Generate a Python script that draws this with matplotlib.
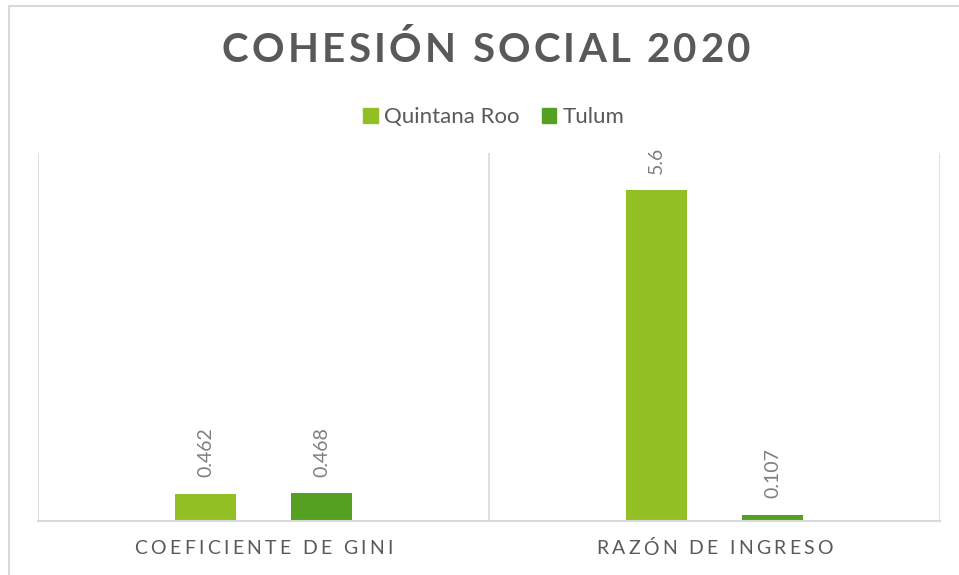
import numpy as np
import matplotlib.pyplot as plt
from matplotlib.lines import Line2D
from matplotlib.patches import Patch

categorias = ["COEFICIENTE DE GINI", "RAZÓN DE INGRESO"]
series = ["Quintana Roo", "Tulum"]
quintana_roo = [0.462, 5.6]
tulum = [0.468, 0.107]
etiquetas_qr = ["0.462", "5.6"]
etiquetas_tulum = ["0.468", "0.107"]

verde_claro = "#92C024"
verde_oscuro = "#55A021"
gris_texto = "#595959"
gris_valor = "#7F7F7F"
gris_linea = "#D9D9D9"

plt.rcParams['font.family'] = ['Lato', 'DejaVu Sans']

fig = plt.figure(figsize=(9.59, 5.75), dpi=100)
W, H = 959, 575
renderer = fig.canvas.get_renderer()


def texto_espaciado(cx, cy, s, espacio, **kw):
    """Texto centrado en (cx, cy) px desde arriba, con espacio extra entre letras."""
    letras = [fig.text(0, 0, c, ha="left", va="center", **kw) for c in s]
    anchos = []
    for t, c in zip(letras, s):
        if c == " ":
            t.set_text("a a")
            w = t.get_window_extent(renderer).width
            t.set_text("aa")
            w -= t.get_window_extent(renderer).width
            t.set_text(" ")
        else:
            w = t.get_window_extent(renderer).width
        anchos.append(w)
    total = sum(anchos) + espacio * (len(s) - 1)
    x0 = cx - total / 2
    for t, w in zip(letras, anchos):
        t.set_position((x0 / W, 1 - cy / H))
        x0 += w + espacio


# marco exterior del gráfico (recortado abajo y a la derecha)
fig.add_artist(Line2D([9 / W, 1], [1 - 6 / H, 1 - 6 / H], color=gris_linea, lw=1.5))
fig.add_artist(Line2D([9 / W, 9 / W], [0, 1 - 6 / H], color=gris_linea, lw=1.5))

izq, der, arr, aba = 38, 940, 153, 521
ax = fig.add_axes([izq / W, (H - aba) / H, (der - izq) / W, (aba - arr) / H])

x = np.arange(len(categorias))
ancho = 0.135
desp = 0.1286
b1 = ax.bar(x - desp, quintana_roo, ancho, color=verde_claro, label=series[0])
b2 = ax.bar(x + desp, tulum, ancho, color=verde_oscuro, label=series[1])

for barras, etiquetas in [(b1, etiquetas_qr), (b2, etiquetas_tulum)]:
    for b, t in zip(barras, etiquetas):
        ax.annotate(t, (b.get_x() + b.get_width() / 2, b.get_height()),
                    xytext=(0, 12), textcoords="offset points",
                    rotation=90, ha="center", va="bottom",
                    fontsize=14, color=gris_valor)

ax.set_xlim(-0.5, 1.5)
ax.set_ylim(0, 6.23)
ax.set_yticks([])
ax.set_xticks([])

# separadores entre categorías
for xv in [-0.5, 0.5, 1.5]:
    ax.axvline(xv, color=gris_linea, lw=1.2, zorder=0)

for s in ["top", "left", "right"]:
    ax.spines[s].set_visible(False)
ax.spines["bottom"].set_color(gris_linea)
ax.spines["bottom"].set_linewidth(1.5)

# etiquetas de categoría con espaciado
paso = (der - izq) / len(categorias)
for i, cat in enumerate(categorias):
    texto_espaciado(izq + paso * (i + 0.5), 549, cat, 3.3,
                    fontsize=14, color=gris_texto)

texto_espaciado(486, 50, "COHESIÓN SOCIAL 2020", 3.3,
                fontsize=29, fontweight="bold", color=gris_texto)

handles = [Patch(color=verde_claro), Patch(color=verde_oscuro)]
fig.legend(handles, series, loc="center", bbox_to_anchor=(494 / W, 1 - 117 / H),
           ncol=2, frameon=False, fontsize=16, labelcolor=gris_texto,
           handlelength=0.65, handleheight=0.65, handletextpad=0.3, columnspacing=1.0)

fig.savefig("out.png", dpi=100, facecolor="white")
